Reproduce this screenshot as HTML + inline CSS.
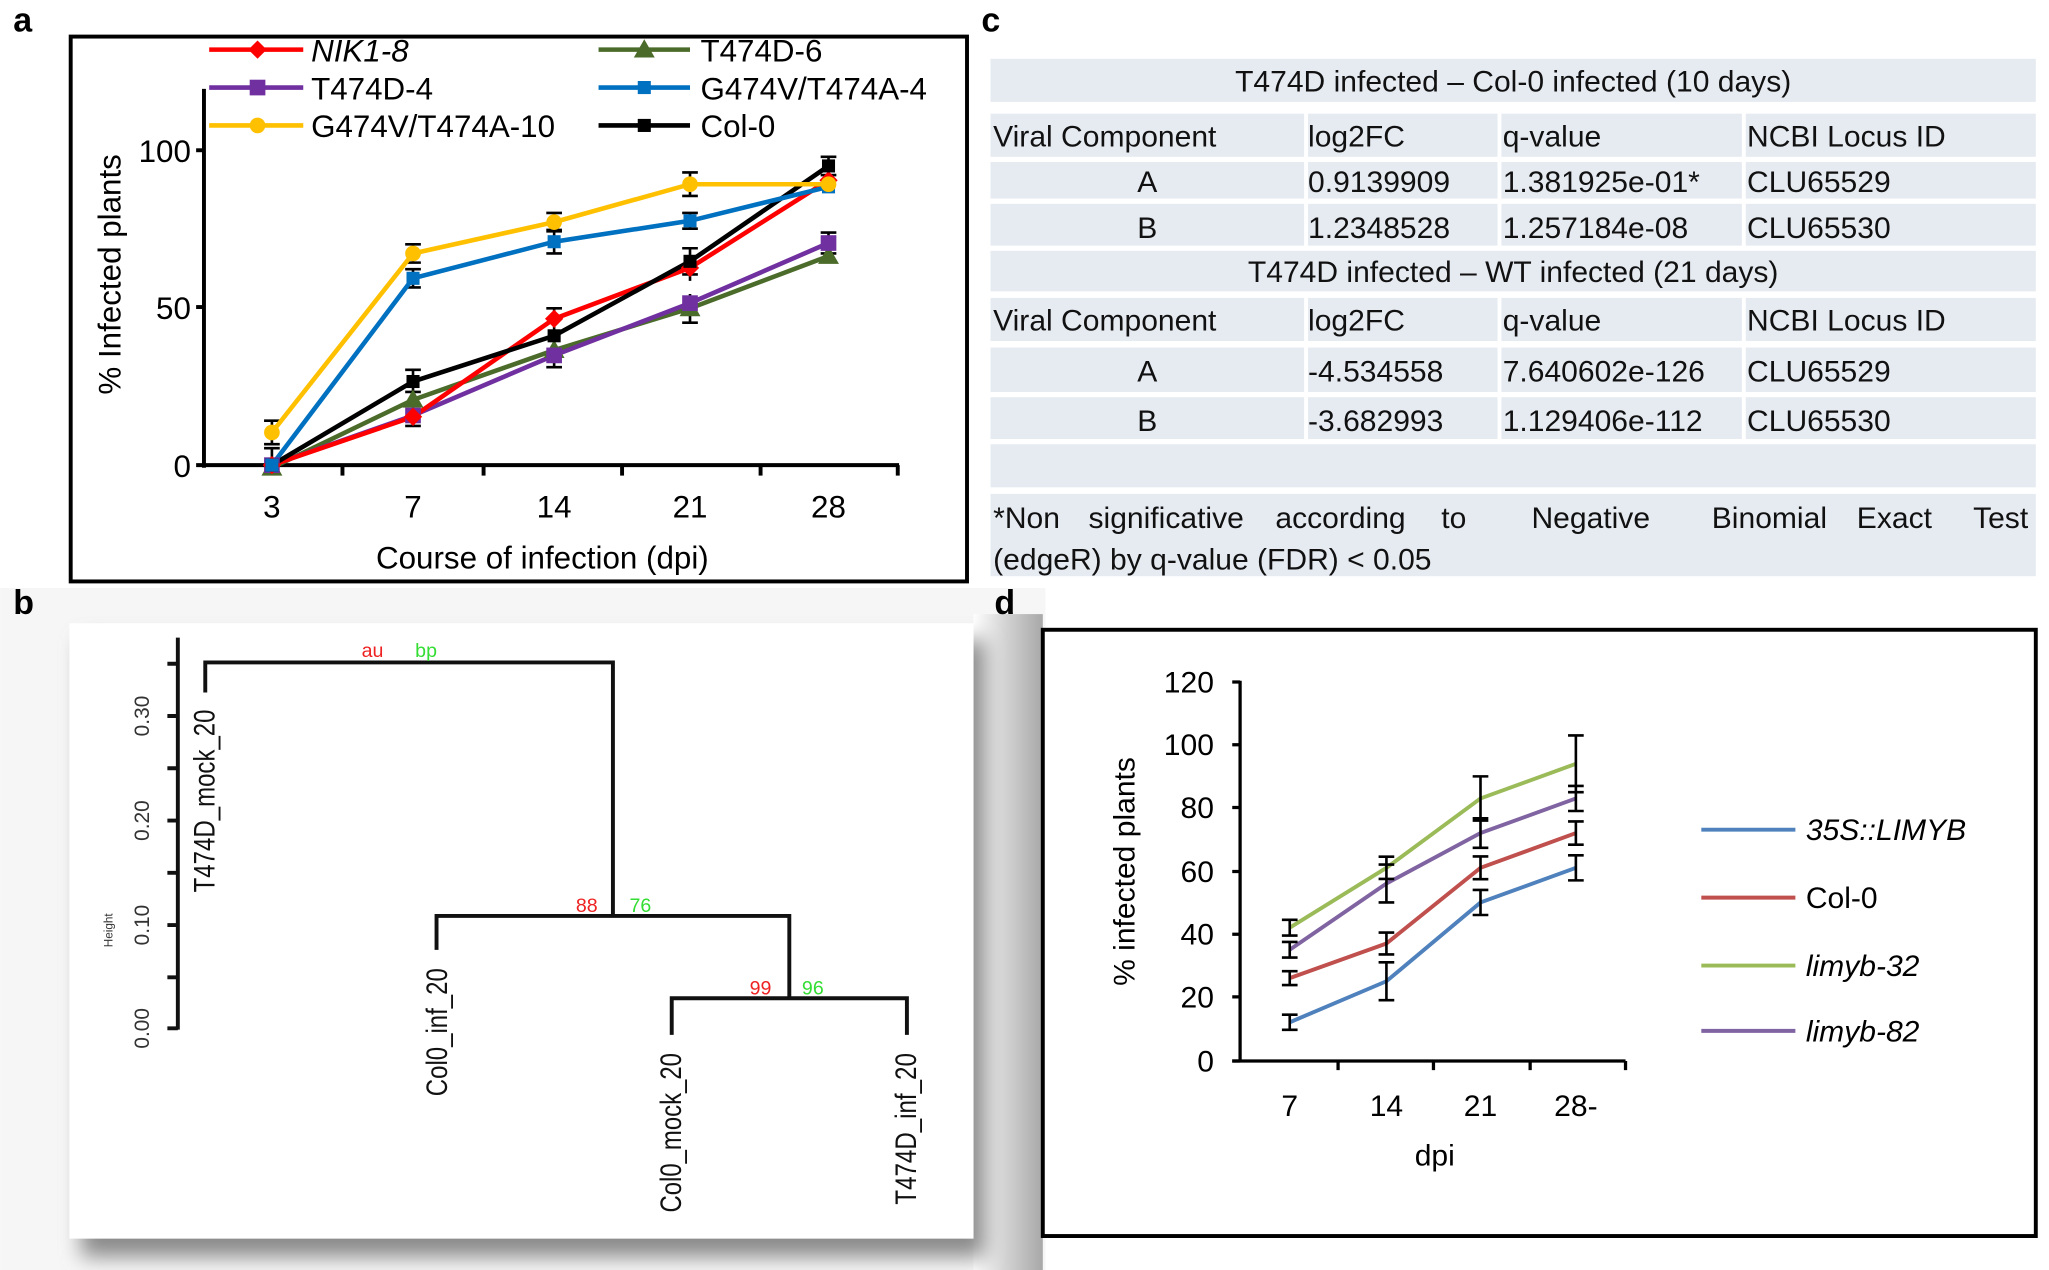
<!DOCTYPE html>
<html><head><meta charset="utf-8"><style>
html,body{margin:0;padding:0;background:#fff}
svg{display:block}
text{font-family:"Liberation Sans",Arial,sans-serif}
</style></head><body>
<svg width="2049" height="1270" viewBox="0 0 1568 972" xmlns="http://www.w3.org/2000/svg">
<defs>
<linearGradient id="gl" x1="0" x2="1" y1="0" y2="0"><stop offset="0" stop-color="#fff"/><stop offset="0.5" stop-color="#d0d0d0"/><stop offset="1" stop-color="#a8a8a8"/></linearGradient>
<filter id="sh" x="-10%" y="-10%" width="130%" height="130%"><feGaussianBlur stdDeviation="8"/></filter>
</defs>
<rect width="1568" height="972" fill="#fff"/>
<!-- ===== Panel b background ===== -->
<rect x="0" y="450" width="800" height="522" fill="#f6f6f6"/>
<rect x="745" y="470" width="53" height="502" fill="url(#gl)"/>
<rect x="62" y="490" width="692" height="472" fill="#8a8a8a" filter="url(#sh)"/>
<rect x="53" y="477" width="692" height="471" fill="#fff"/>
<!-- panel labels -->
<g font-weight="bold" font-size="26">
<text x="10" y="24">a</text><text x="751" y="24">c</text><text x="10" y="470">b</text><text x="761" y="470">d</text>
</g>
<!-- ===== Panel a ===== -->
<rect x="54" y="28" width="686" height="417" fill="none" stroke="#000" stroke-width="3"/>
<g stroke="#000" stroke-width="3" fill="none">
<line x1="156" y1="68" x2="156" y2="358"/><line x1="150" y1="356" x2="688" y2="356"/>
<line x1="150" y1="115" x2="156" y2="115"/><line x1="150" y1="235" x2="156" y2="235"/>
<line x1="262" y1="356" x2="262" y2="364"/><line x1="370" y1="356" x2="370" y2="364"/><line x1="476" y1="356" x2="476" y2="364"/><line x1="582" y1="356" x2="582" y2="364"/><line x1="687" y1="356" x2="687" y2="364"/>
</g>
<g font-size="24" text-anchor="end"><text x="146" y="124">100</text><text x="146" y="244">50</text><text x="146" y="365">0</text></g>
<g font-size="24" text-anchor="middle"><text x="208" y="396">3</text><text x="316" y="396">7</text><text x="424" y="396">14</text><text x="528" y="396">21</text><text x="634" y="396">28</text>
<text x="415" y="435">Course of infection (dpi)</text>
<text transform="translate(92,210) rotate(-90)">% Infected plants</text></g>
<!-- error bars a -->
<g stroke="#000" stroke-width="2">
<path d="M208 322V340M202 322h12M202 340h12 M316 187V201M310 187h12M310 201h12 M424 163V177M418 163h12M418 177h12 M528 132V150M522 132h12M522 150h12
M316 206V220M310 206h12M310 220h12 M424 176V194M418 176h12M418 194h12 M528 163V175M522 163h12M522 175h12
M208 343V353M202 343h12 M316 283V300M310 283h12M310 300h12 M424 250V264 M528 190V210M522 190h12M522 210h12 M634 120V134M628 120h12M628 134h12
M424 236V252M418 236h12 M528 195V215 M316 312V326M310 326h12
M424 265V281M418 281h12 M634 178V194M628 178h12M628 194h12 M528 225V247M522 247h12 M634 190V200"/>
</g>
<!-- series a -->
<g fill="none" stroke-width="3.5">
<polyline stroke="#4b6b2a" points="208,358 316,306 424,268 528,236 634,196"/>
<polyline stroke="#7030a0" points="208,356 316,318 424,272 528,232 634,186"/>
<polyline stroke="#ff0000" points="208,356 316,319 424,244 528,205 634,138"/>
<polyline stroke="#000" points="208,356 316,292 424,257 528,200 634,127"/>
<polyline stroke="#0070c0" points="208,356 316,213 424,185 528,169 634,143"/>
<polyline stroke="#ffc000" points="208,331 316,194 424,170 528,141 634,141"/>
</g>
<g>
<g fill="#4b6b2a"><path d="M208 350l8 14h-16z M316 298l8 14h-16z M424 260l8 14h-16z M528 228l8 14h-16z M634 188l8 14h-16z"/></g>
<g fill="#7030a0"><rect x="202" y="350" width="12" height="12"/><rect x="310" y="312" width="12" height="12"/><rect x="418" y="266" width="12" height="12"/><rect x="522" y="226" width="12" height="12"/><rect x="628" y="180" width="12" height="12"/></g>
<g fill="#ff0000"><path d="M208 349l7 7-7 7-7-7z M316 312l7 7-7 7-7-7z M424 237l7 7-7 7-7-7z M528 198l7 7-7 7-7-7z M634 131l7 7-7 7-7-7z"/></g>
<g fill="#000"><rect x="203" y="351" width="10" height="10"/><rect x="311" y="287" width="10" height="10"/><rect x="419" y="252" width="10" height="10"/><rect x="523" y="195" width="10" height="10"/><rect x="629" y="122" width="10" height="10"/></g>
<g fill="#0070c0"><rect x="203" y="351" width="10" height="10"/><rect x="311" y="208" width="10" height="10"/><rect x="419" y="180" width="10" height="10"/><rect x="523" y="164" width="10" height="10"/><rect x="629" y="138" width="10" height="10"/></g>
<g fill="#ffc000"><circle cx="208" cy="331" r="6"/><circle cx="316" cy="194" r="6"/><circle cx="424" cy="170" r="6"/><circle cx="528" cy="141" r="6"/><circle cx="634" cy="141" r="6"/></g>
</g>
<!-- legend a -->
<g stroke-width="3.5">
<line x1="160" y1="38" x2="232" y2="38" stroke="#ff0000"/><path d="M197 31l7 7-7 7-7-7z" fill="#ff0000"/>
<line x1="458" y1="38" x2="528" y2="38" stroke="#4b6b2a"/><path d="M493 30l8 14h-16z" fill="#4b6b2a"/>
<line x1="160" y1="67" x2="232" y2="67" stroke="#7030a0"/><rect x="191" y="61" width="12" height="12" fill="#7030a0"/>
<line x1="458" y1="67" x2="528" y2="67" stroke="#0070c0"/><rect x="488" y="62" width="10" height="10" fill="#0070c0"/>
<line x1="160" y1="96" x2="232" y2="96" stroke="#ffc000"/><circle cx="197" cy="96" r="6" fill="#ffc000"/>
<line x1="458" y1="96" x2="528" y2="96" stroke="#000"/><rect x="488" y="91" width="10" height="10" fill="#000"/>
</g>
<g font-size="24"><text x="238" y="47" font-style="italic">NIK1-8</text><text x="536" y="47">T474D-6</text>
<text x="238" y="76">T474D-4</text><text x="536" y="76">G474V/T474A-4</text>
<text x="238" y="105">G474V/T474A-10</text><text x="536" y="105">Col-0</text></g>
<!-- ===== Panel c ===== -->
<g fill="#e6ebf2">
<rect x="758" y="45" width="800" height="33"/>
<rect x="758" y="87" width="240" height="33"/><rect x="1001" y="87" width="145" height="33"/><rect x="1149" y="87" width="184" height="33"/><rect x="1336" y="87" width="222" height="33"/>
<rect x="758" y="124" width="240" height="28"/><rect x="1001" y="124" width="145" height="28"/><rect x="1149" y="124" width="184" height="28"/><rect x="1336" y="124" width="222" height="28"/>
<rect x="758" y="156" width="240" height="32"/><rect x="1001" y="156" width="145" height="32"/><rect x="1149" y="156" width="184" height="32"/><rect x="1336" y="156" width="222" height="32"/>
<rect x="758" y="192" width="800" height="31"/>
<rect x="758" y="228" width="240" height="33"/><rect x="1001" y="228" width="145" height="33"/><rect x="1149" y="228" width="184" height="33"/><rect x="1336" y="228" width="222" height="33"/>
<rect x="758" y="266" width="240" height="34"/><rect x="1001" y="266" width="145" height="34"/><rect x="1149" y="266" width="184" height="34"/><rect x="1336" y="266" width="222" height="34"/>
<rect x="758" y="304" width="240" height="32"/><rect x="1001" y="304" width="145" height="32"/><rect x="1149" y="304" width="184" height="32"/><rect x="1336" y="304" width="222" height="32"/>
<rect x="758" y="340" width="800" height="33"/>
<rect x="758" y="378" width="800" height="63"/>
</g>
<g font-size="23" fill="#111">
<text x="1158" y="70" text-anchor="middle">T474D infected – Col-0 infected (10 days)</text>
<text x="760" y="112">Viral Component</text><text x="1001" y="112">log2FC</text><text x="1150" y="112">q-value</text><text x="1337" y="112">NCBI Locus ID</text>
<text x="878" y="147" text-anchor="middle">A</text><text x="1001" y="147">0.9139909</text><text x="1150" y="147">1.381925e-01*</text><text x="1337" y="147">CLU65529</text>
<text x="878" y="182" text-anchor="middle">B</text><text x="1001" y="182">1.2348528</text><text x="1150" y="182">1.257184e-08</text><text x="1337" y="182">CLU65530</text>
<text x="1158" y="216" text-anchor="middle">T474D infected – WT infected (21 days)</text>
<text x="760" y="253">Viral Component</text><text x="1001" y="253">log2FC</text><text x="1150" y="253">q-value</text><text x="1337" y="253">NCBI Locus ID</text>
<text x="878" y="292" text-anchor="middle">A</text><text x="1001" y="292">-4.534558</text><text x="1150" y="292">7.640602e-126</text><text x="1337" y="292">CLU65529</text>
<text x="878" y="330" text-anchor="middle">B</text><text x="1001" y="330">-3.682993</text><text x="1150" y="330">1.129406e-112</text><text x="1337" y="330">CLU65530</text>
<text x="760" y="404">*Non</text><text x="833" y="404">significative</text><text x="976" y="404">according</text><text x="1103" y="404">to</text><text x="1172" y="404">Negative</text><text x="1310" y="404">Binomial</text><text x="1421" y="404">Exact</text><text x="1510" y="404">Test</text>
<text x="760" y="436">(edgeR) by q-value (FDR) &lt; 0.05</text>
</g>
<!-- ===== Panel b ===== -->
<g stroke="#111" stroke-width="3" fill="none">
<line x1="136" y1="488" x2="136" y2="788"/>
<path d="M128 508h8M128 548h8M128 588h8M128 628h8M128 668h8M128 708h8M128 748h8M128 787h8"/>
<path d="M157 530V507H469V701"/>
<path d="M334 727V701H604V764"/>
<path d="M514 792V764H694V792"/>
</g>
<g font-size="16" fill="#333" text-anchor="middle">
<text transform="translate(114,787) rotate(-90)">0.00</text>
<text transform="translate(114,708) rotate(-90)">0.10</text>
<text transform="translate(114,628) rotate(-90)">0.20</text>
<text transform="translate(114,548) rotate(-90)">0.30</text>
<text transform="translate(86,712) rotate(-90)" font-size="9">Height</text>
</g>
<g font-size="23" fill="#111" text-anchor="end">
<text transform="translate(164,543) rotate(-90)" textLength="140" lengthAdjust="spacingAndGlyphs">T474D_mock_20</text>
<text transform="translate(342,741) rotate(-90)" textLength="98" lengthAdjust="spacingAndGlyphs">Col0_inf_20</text>
<text transform="translate(521,806) rotate(-90)" textLength="122" lengthAdjust="spacingAndGlyphs">Col0_mock_20</text>
<text transform="translate(701,806) rotate(-90)" textLength="116" lengthAdjust="spacingAndGlyphs">T474D_inf_20</text>
</g>
<g font-size="15" text-anchor="middle">
<text x="285" y="503" fill="#ee2222">au</text><text x="326" y="503" fill="#33dd33">bp</text>
<text x="449" y="698" fill="#ee2222">88</text><text x="490" y="698" fill="#33dd33">76</text>
<text x="582" y="761" fill="#ee2222">99</text><text x="622" y="761" fill="#33dd33">96</text>
</g>
<!-- ===== Panel d ===== -->
<rect x="798" y="482" width="760" height="464" fill="#fff" stroke="#000" stroke-width="3"/>
<g stroke="#000" stroke-width="2.5" fill="none">
<line x1="949" y1="521" x2="949" y2="813"/><line x1="943" y1="812" x2="1244" y2="812"/>
<path d="M943 522h6M943 570h6M943 618h6M943 667h6M943 715h6M943 763h6M943 812h6"/>
<path d="M1024 812v7M1097 812v7M1171 812v7M1244 812v7"/>
</g>
<g font-size="23" text-anchor="end"><text x="929" y="530">120</text><text x="929" y="578">100</text><text x="929" y="626">80</text><text x="929" y="675">60</text><text x="929" y="723">40</text><text x="929" y="771">20</text><text x="929" y="820">0</text></g>
<g font-size="23" text-anchor="middle"><text x="987" y="854">7</text><text x="1061" y="854">14</text><text x="1133" y="854">21</text><text x="1206" y="854">28-</text>
<text x="1098" y="892">dpi</text>
<text transform="translate(868,667) rotate(-90)">% infected plants</text></g>
<g fill="none" stroke-width="3">
<polyline stroke="#4f81bd" points="987,782.4 1061,751 1133,690.7 1206,664.2"/>
<polyline stroke="#c0504d" points="987,748.6 1061,722.1 1133,664.2 1206,637.6"/>
<polyline stroke="#9bbb59" points="987,710 1061,664.2 1133,611.1 1206,584.6"/>
<polyline stroke="#8064a2" points="987,726.9 1061,676.2 1133,637.6 1206,611.1"/>
</g>
<g stroke="#000" stroke-width="2">
<path d="M987 776.6V788.2M981 776.6h12M981 788.2h12 M1061 736.5V765.5M1055 736.5h12M1055 765.5h12 M1133 681.1V700.3M1127 681.1h12M1127 700.3h12 M1206 654.6V673.8M1200 654.6h12M1200 673.8h12
M987 743.3V753.9M981 743.3h12M981 753.9h12 M1061 713.7V730.5M1055 713.7h12M1055 730.5h12 M1133 655.5V672.9M1127 655.5h12M1127 672.9h12 M1206 628.7V646.5M1200 628.7h12M1200 646.5h12
M987 704V716M981 704h12M981 716h12 M1061 655.7V672.7M1055 655.7h12M1055 672.7h12 M1133 594.2V628M1127 594.2h12M1127 628h12 M1206 562.9V606.3M1200 562.9h12M1200 606.3h12
M987 720.9V732.9M981 720.9h12M981 732.9h12 M1061 661.7V690.7M1055 661.7h12M1055 690.7h12 M1133 626.3V648.9M1127 626.3h12M1127 648.9h12 M1206 601.5V620.7M1200 601.5h12M1200 620.7h12"/>
</g>
<g stroke-width="3"><line x1="1302" y1="635" x2="1374" y2="635" stroke="#4f81bd"/><line x1="1302" y1="687" x2="1374" y2="687" stroke="#c0504d"/><line x1="1302" y1="739" x2="1374" y2="739" stroke="#9bbb59"/><line x1="1302" y1="789" x2="1374" y2="789" stroke="#8064a2"/></g>
<g font-size="23"><text x="1382" y="643" font-style="italic">35S::LIMYB</text><text x="1382" y="695">Col-0</text><text x="1382" y="747" font-style="italic">limyb-32</text><text x="1382" y="797" font-style="italic">limyb-82</text></g>
</svg>
</body></html>
